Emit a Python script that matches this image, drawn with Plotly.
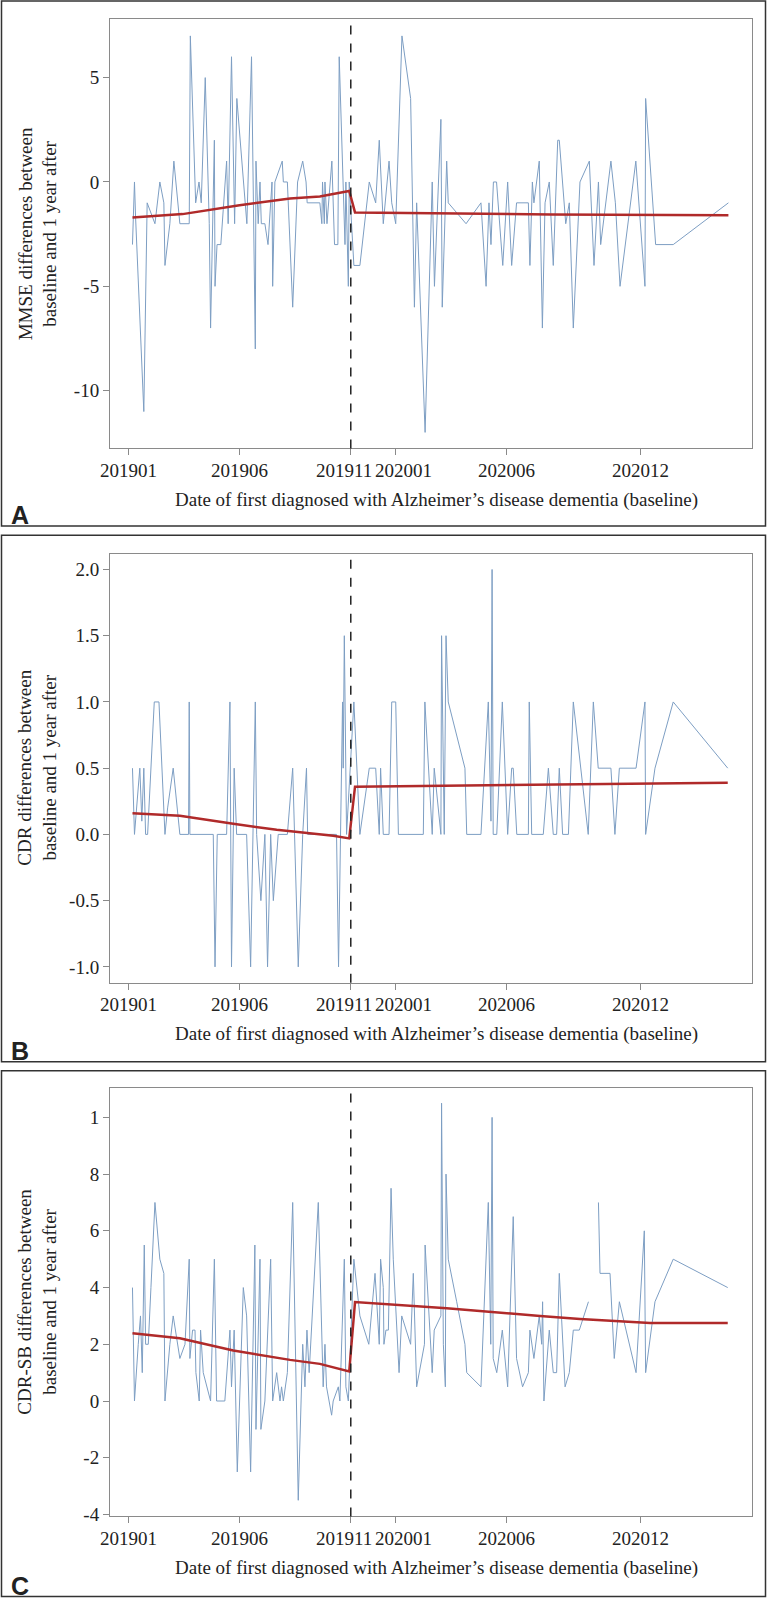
import plotly.graph_objects as go

# x values are months since January 2019 (0 = 201901)
tick_months = [0, 5, 10, 12, 17, 23]
tick_labels = ['201901', '201906', '201911', '202001', '202006', '202012']
tick_nudge = [0, 0, -6.5, 8, 0, 0]  # the two crowded labels are pushed apart, as printed
cut_month = 10  # 201911

# A: MMSE
mmse_month = [0.19, 0.28, 0.33, 0.70, 0.85, 1.20, 1.42, 1.60, 1.65, 1.87, 2.05, 2.32, 2.74, 2.79, 3.03,
              3.18, 3.28, 3.46, 3.64, 3.70, 3.87, 3.90, 3.99, 4.16, 4.42, 4.49, 4.64, 4.78, 4.88, 5.33,
              5.54, 5.71, 5.74, 5.84, 5.92, 5.98, 6.14, 6.28, 6.46, 6.49, 6.59, 6.92, 6.97, 7.15, 7.39,
              7.61, 7.84, 7.99, 8.04, 8.61, 8.70, 8.73, 8.81, 8.84, 8.93, 9.15, 9.27, 9.42, 9.48, 9.69,
              9.74, 9.78, 9.89, 9.93, 10.14, 10.41, 10.83, 11.12, 11.28, 11.46, 11.72, 11.84, 12.02, 12.30,
              12.69, 12.86, 12.96, 13.34, 13.66, 13.76, 14.05, 14.11, 14.31, 14.38, 15.18, 15.85, 16.08,
              16.21, 16.30, 16.41, 16.55, 16.83, 17.05, 17.23, 17.45, 17.98, 18.05, 18.16, 18.23, 18.47,
              18.61, 18.73, 18.92, 19.10, 19.30, 19.37, 19.66, 19.82, 20.00, 20.30, 20.72, 20.93, 21.13,
              21.23, 21.69, 21.89, 22.10, 22.81, 23.22, 23.25, 23.70, 24.49, 26.97]
mmse_diff = [-3, 0, -1.7, -11, -1, -2, 0, -1, -4, -2, 1, -2, -2, 7, -1,
             0, -1, 5, -2, -7, 2, -5, -3, -3, 1, -2, 6, -2, 4, -2,
             6, -8, 1, -2, 0, -2, -2, -3, 0, -5, 0, 1, 0, 0, -6,
             0, 1, 0, -1, -1, -2, 0, -2, 0, -2, 1, -3, -3, 6, -2,
             -3, 0, -5, 0, -4, -4, 0, -1, 2, -2, 1, -1, -2, 7,
             4, -6, -1, -12, 0, -5, 3, -6, 1, -1, -2, -1, -5,
             -1, -3, 0, 0, -4, 0, -4, -1, -1, -4, 0, -1, 1,
             -7, -1, 0, -4, 2, 2, -2, -1, -7, 0, 1, -4, 0,
             -3, 1, -1, -5, 1, -5, 4, -3, -3, -1]
mmse_fit_month = [0.19, 2.44, 5.0, 7.27, 8.61, 9.93, 10.19, 15.0, 19.0, 26.97]
mmse_fit = [-1.70, -1.54, -1.11, -0.79, -0.70, -0.43, -1.46, -1.50, -1.56, -1.59]

# B: CDR
cdr_month = [0.19, 0.28, 0.52, 0.61, 0.70, 0.78, 0.87, 1.17, 1.38, 1.65, 1.77, 2.02, 2.32, 2.71, 2.74,
             2.77, 3.82, 3.90, 4.00, 4.42, 4.57, 4.64, 4.76, 4.87, 5.32, 5.50, 5.71, 5.77, 5.96, 6.14,
             6.26, 6.40, 6.52, 6.74, 7.15, 7.39, 7.64, 7.84, 8.01, 8.06, 9.36, 9.45, 9.63, 9.66, 9.71,
             9.81, 10.14, 10.41, 10.83, 11.12, 11.28, 11.34, 11.46, 11.72, 11.84, 12.02, 12.14, 13.26,
             13.33, 13.66, 13.75, 14.05, 14.08, 14.20, 14.28, 14.38, 15.13, 15.21, 15.85, 16.18, 16.30,
             16.35, 16.40, 16.56, 16.81, 17.05, 17.23, 17.30, 17.46, 17.98, 18.02, 18.13, 18.65, 18.88,
             19.10, 19.25, 19.37, 19.52, 19.78, 20.00, 20.67, 20.90, 21.12, 21.69, 21.87, 22.07, 22.82,
             23.22, 23.25, 23.67, 24.49, 26.94]
cdr_diff = [0.5, 0.0, 0.5, 0.1, 0.5, 0.0, 0.0, 1.0, 1.0, 0.0, 0.2, 0.5, 0.0, 0.0, 1.0,
            0.0, 0.0, -1.0, 0.0, 0.0, 1.0, -1.0, 0.5, 0.0, 0.0, -1.0, 1.0, 0.0, -0.5, 0.0,
            -1.0, 0.0, -0.5, 0.0, 0.0, 0.5, -1.0, 0.0, 0.5, 0.0, 0.0, -1.0, 1.0, 0.5, 1.5,
            0.0, 1.0, 0.0, 0.5, 0.5, 0.0, 0.5, 0.0, 0.0, 1.0, 1.0, 0.0, 0.0,
            1.0, 0.0, 0.5, 0.0, 1.5, 0.0, 1.5, 1.0, 0.5, 0.0, 0.0, 1.0, 0.1,
            2.0, 0.0, 0.0, 1.0, 0.0, 0.5, 0.5, 0.0, 0.0, 1.0, 0.0, 0.0, 0.5,
            0.0, 0.0, 0.5, 0.0, 0.0, 1.0, 0.0, 1.0, 0.5, 0.5, 0.0, 0.5, 0.5,
            1.0, 0.0, 0.5, 1.0, 0.5]
cdr_fit_month = [0.19, 2.32, 4.72, 6.67, 9.21, 9.93, 10.19, 17.0, 26.94]
cdr_fit = [0.16, 0.14, 0.08, 0.035, -0.01, -0.03, 0.36, 0.37, 0.39]

# C: CDR-SB (None = gap in the series)
cdrsb_month = [0.19, 0.28, 0.45, 0.55, 0.63, 0.72, 0.78, 0.90, 1.02, 1.20, 1.42, 1.60, 1.65, 1.87, 2.02,
               2.32, 2.55, 2.74, 2.77, 2.89, 3.00, 3.04, 3.19, 3.25, 3.37, 3.52, 3.70, 3.87, 3.97, 4.34,
               4.57, 4.64, 4.76, 4.90, 5.17, 5.32, 5.50, 5.69, 5.74, 5.92, 5.96, 6.14, 6.40, 6.49, 6.67,
               6.82, 6.89, 6.97, 7.15, 7.39, 7.64, 7.84, 7.94, 8.03, 8.13, 8.54, 8.69, 8.76, 8.84, 8.91,
               9.14, 9.21, 9.44, 9.51, 9.71, 9.78, 9.89, 10.14, 10.41, 10.81, 11.09, 11.28, 11.34, 11.46,
               11.49, 11.58, 11.69, 11.81, 11.91, 12.17, 12.29, 12.69, 12.81, 12.96, 13.31, 13.34, 13.66,
               13.75, 14.05, 14.08, 14.16, 14.25, 14.28, 14.38, 14.76, 15.13, 15.21, 15.85, 16.18, 16.29,
               16.35, 16.40, 16.56, 16.81, 17.05, 17.30, 17.45, 17.72, 17.98, 18.05, 18.23, 18.47, 18.58,
               18.62, 18.68, 18.92, 19.10, 19.25, 19.37, 19.63, 19.82, 20.00, 20.27, 20.68, 20.90, 21.13,
               21.20, 21.65, 21.84, 22.07, 22.82, 23.19, 23.25, 23.67, 24.49, 26.94]
cdrsb_diff = [4.0, 0.0, 2.0, 3.0, 1.0, 5.5, 2.0, 2.0, 4.0, 7.0, 5.0, 4.5, 0.0, 2.0, 3.0,
              1.5, 2.0, 5.0, 1.5, 2.5, 2.5, 1.0, 0.0, 2.5, 1.0, 0.5, 0.0, 5.0, 0.0, 0.0,
              2.5, 0.5, 2.5, -2.5, 4.0, 3.0, -2.5, 5.5, -1.0, 5.0, -1.0, 0.0, 5.0, 0.0, 1.0,
              0.0, 0.5, 0.0, 1.0, 7.0, -3.5, 2.0, 0.5, 2.5, 1.0, 7.0, 2.0, 0.5, 2.0, 0.5,
              -0.5, 0.0, 0.5, 0.0, 5.0, 0.5, 0.0, 5.0, 3.0, 2.0, 4.5, 2.0, 5.0, 4.0,
              2.0, 2.5, 2.5, 7.5, 5.0, 1.0, 3.0, 2.0, 4.5, 0.5, 2.0, 5.5, 1.0,
              2.5, 3.0, 10.5, 2.0, 0.5, 8.0, 5.0, 3.5, 2.0, 1.0, 0.5, 7.0, 2.0,
              10.0, 1.5, 1.0, 2.5, 0.5, 6.5, 1.5, 0.5, 1.0, 2.5, 1.5, 3.0, 2.0,
              3.5, 0.0, 2.5, 1.0, 1.0, 4.5, 0.5, 1.0, 2.5, 2.5, 3.5, None, 7.0,
              4.5, 4.5, 1.5, 3.5, 1.0, 6.0, 1.0, 3.5, 5.0, 4.0]
cdrsb_fit_month = [0.19, 2.32, 4.72, 7.27, 8.61, 9.93, 10.19, 14.31, 18.51, 20.30, 23.45, 26.94]
cdrsb_fit = [2.39, 2.21, 1.78, 1.45, 1.31, 1.04, 3.49, 3.27, 3.00, 2.89, 2.75, 2.75]

W, H = 767, 1607
SERIF = 'Liberation Serif, Times New Roman, serif'
BLUE = '#7d9ec3'
RED = '#b02a2a'
INK = '#222'
XTITLE = 'Date of first diagnosed with Alzheimer\u2019s disease dementia (baseline)'

# pixel boxes: (panel top, panel bottom), (plot top, plot bottom)
panels = [
    dict(letter='A', box=(1, 529), plot=(19.3, 451), yr=[-12.77, 7.8],
         tv=[-10, -5, 0, 5], tt=['-10', '-5', '0', '5'],
         ytitle='MMSE differences between<br>baseline and 1 year after',
         mx=mmse_month, vy=mmse_diff, fx=mmse_fit_month, fy=mmse_fit),
    dict(letter='B', box=(538.3, 1067.7), plot=(556.7, 988.3), yr=[-1.12, 2.12],
         tv=[-1.0, -0.5, 0.0, 0.5, 1.0, 1.5, 2.0], tt=['-1.0', '-0.5', '0.0', '0.5', '1.0', '1.5', '2.0'],
         ytitle='CDR differences between<br>baseline and 1 year after',
         mx=cdr_month, vy=cdr_diff, fx=cdr_fit_month, fy=cdr_fit),
    dict(letter='C', box=(1076.7, 1605.5), plot=(1094, 1525), yr=[-4.07, 11.04],
         tv=[-4, -2, 0, 2, 4, 6, 8, 10], tt=['-4', '-2', '0', '2', '4', '6', '8', '1'],
         ytitle='CDR-SB differences between<br>baseline and 1 year after',
         mx=cdrsb_month, vy=cdrsb_diff, fx=cdrsb_fit_month, fy=cdrsb_fit),
]


def py(p):
    return 1 - p / H


fig = go.Figure()
shapes = []
annotations = []

for i, p in enumerate(panels):
    n = '' if i == 0 else str(i + 1)
    xa, ya = 'x' + n, 'y' + n

    fig.add_trace(go.Scatter(x=p['mx'], y=p['vy'], mode='lines', xaxis=xa, yaxis=ya,
                             line=dict(color=BLUE, width=1), connectgaps=False, showlegend=False))
    fig.add_trace(go.Scatter(x=p['fx'], y=p['fy'], mode='lines', xaxis=xa, yaxis=ya,
                             line=dict(color=RED, width=2.5), showlegend=False))

    axis_common = dict(showline=True, mirror=True, linecolor='#8a8a8a', linewidth=1,
                       ticks='outside', ticklen=6, tickcolor='#8a8a8a', showgrid=False,
                       zeroline=False, tickangle=0,
                       tickfont=dict(family=SERIF, size=19, color=INK))
    fig.layout['xaxis' + n] = dict(axis_common, domain=[110 / W, 752 / W], range=[-0.82, 28.03],
                                   tickvals=tick_months, ticktext=tick_labels, showticklabels=False,
                                   anchor=ya)
    fig.layout['yaxis' + n] = dict(axis_common, domain=[py(p['plot'][1]), py(p['plot'][0])],
                                   range=p['yr'], tickvals=p['tv'], ticktext=p['tt'], anchor=xa)

    # x tick labels placed on the axis scale
    for tv, tt, dx in zip(tick_months, tick_labels, tick_nudge):
        annotations.append(dict(text=tt, xref=xa, yref='paper', x=tv, xshift=dx,
                                y=py(p['plot'][1] + 22), showarrow=False,
                                xanchor='center', yanchor='middle',
                                font=dict(family=SERIF, size=19, color=INK)))

    # dashed line at the cut point
    shapes.append(dict(type='line', xref=xa, yref=ya + ' domain', x0=cut_month, x1=cut_month,
                       y0=0, y1=1, line=dict(color=INK, width=1.5, dash='dash')))
    # panel frame
    shapes.append(dict(type='rect', xref='paper', yref='paper', x0=1.5 / W, x1=765.5 / W,
                       y0=py(p['box'][1]), y1=py(p['box'][0]), line=dict(color='#333', width=1.5)))

    plot_mid = (p['plot'][0] + p['plot'][1]) / 2
    annotations.append(dict(text=p['ytitle'], xref='paper', yref='paper', x=37.5 / W, y=py(plot_mid),
                            textangle=-90, showarrow=False, xanchor='center', yanchor='middle',
                            font=dict(family=SERIF, size=19, color=INK)))
    annotations.append(dict(text=XTITLE, xref='paper', yref='paper', x=436 / W, y=py(p['plot'][1] + 52),
                            showarrow=False, xanchor='center', yanchor='middle',
                            font=dict(family=SERIF, size=19, color=INK)))
    annotations.append(dict(text='<b>' + p['letter'] + '</b>', xref='paper', yref='paper',
                            x=9 / W, y=py(p['box'][1] - 11), showarrow=False,
                            xanchor='left', yanchor='middle',
                            font=dict(family='Liberation Sans, Arial, sans-serif', size=25, color=INK)))

fig.update_layout(width=W, height=H, margin=dict(l=0, r=0, t=0, b=0),
                  font=dict(family=SERIF, size=19, color=INK),
                  plot_bgcolor='white', paper_bgcolor='white',
                  shapes=shapes, annotations=annotations)

fig.write_html("out.html", config={'displayModeBar': False},
               post_script="document.body.style.margin='0';document.body.style.overflow='hidden';")
